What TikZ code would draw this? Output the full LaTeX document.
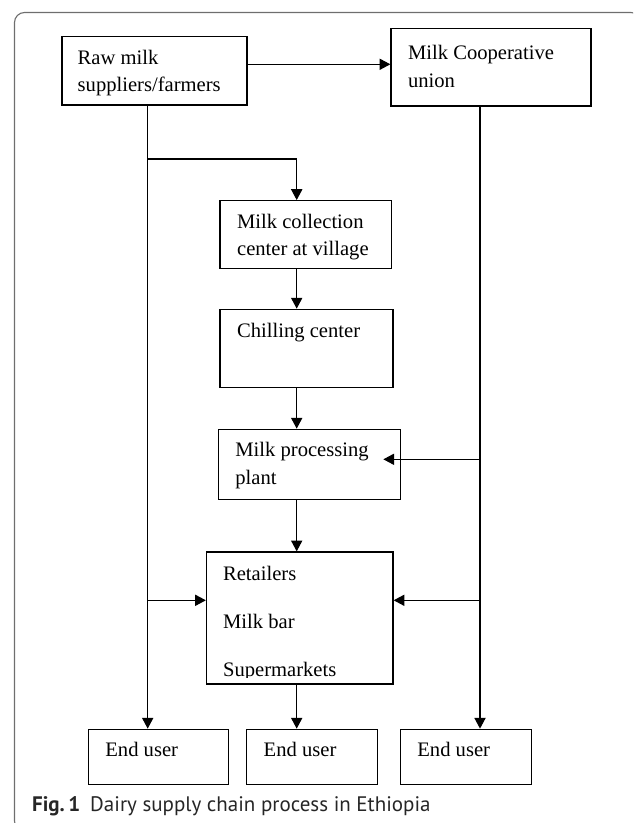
\documentclass[tikz,border=0pt]{standalone}
\usepackage{fontspec}
\setmainfont{Liberation Serif}
\newfontfamily\capfont{PT Sans}
\usetikzlibrary{arrows.meta,fit}
\definecolor{framegray}{HTML}{6E6E6E}
\definecolor{capgray}{HTML}{262626}
\begin{document}
\begin{tikzpicture}[x=.5pt,y=-.5pt,
	box/.style={draw,line width=.65pt,inner sep=0pt},
	txt/.style={anchor=base west,inner sep=0pt,align=left,font=\fontsize{10.3}{13.7}\selectfont},
	arr/.style={-{Triangle[length=5.4pt,width=5.6pt]},line width=.6pt}]
	\useasboundingbox(0,0)rectangle(633,823);
	\clip(0,0)rectangle(633,823);
	\draw[framegray,line width=.55pt,rounded corners=5pt](14.5,12.5)rectangle(641,831);
	\coordinate(L)at(147.7,0);
	\coordinate(C)at(296.7,0);
	\coordinate(R)at(480,0);
	\coordinate(T)at(0,64.3);
	\coordinate(B)at(147.7,159);
	\coordinate(P)at(0,459.3);
	\coordinate(Q)at(0,600.3);
	\coordinate(S)at(0,677.5);
	\node[box,fit={(62,36.7)(247,105)}](raw){};
	\node[box,fit={(391,28.3)(591,106)}](coop){};
	\node[box,fit={(220,200.7)(391.7,268.3)}](collect){};
	\node[box,fit={(220,309.3)(393,387.7)}](chill){};
	\node[box,fit={(218.7,429.3)(400.7,499.3)}](plant){};
	\node[box,fit={(206.5,552)(393,684)}](retail){};
	\node[txt](rawT)at(77.3,91.7){Raw milk\\suppliers/farmers};
	\node[txt](coopT)at(407.7,87.4){Milk Cooperative\\union};
	\node[txt](collectT)at(236.7,256){Milk collection\\center at village};
	\node[txt](chillT)at(236.7,337.3){Chilling center};
	\node[txt](plantT)at(235,484){Milk processing\\plant};
	\begin{scope}
		\clip(retail.north west)rectangle(retail.east|-S);
		\node[txt](retailT)at(222.7,676.3){Retailers\\[10.3pt]Milk bar\\[10.3pt]Supermarkets};
	\end{scope}
	\foreach\n/\a/\b/\t in{1/88.3/228.7/105,2/246.7/377.4/263.3,3/400.3/531.3/417}{
		\node[box,fit={(\a,729.3)(\b,784.3)}](eu\n){};
		\node[txt](euT\n)at(\t,756.7){End user};
	}
	\draw[arr](raw.east|-T)--(coop.west|-T);
	\draw[arr](raw.south-|L)--(eu1.north-|L);
	\draw[arr](B)-|(collect.north-|C);
	\draw[arr](collect.south-|C)--(chill.north-|C);
	\draw[arr](chill.south-|C)--(plant.north-|C);
	\draw[arr](plant.south-|C)--(retail.north-|C);
	\draw[arr](retail.south-|C)--(eu2.north-|C);
	\draw[arr](coop.south-|R)--(eu3.north-|R);
	\draw[arr](R|-P)--([xshift=-9pt]plant.east|-P);
	\draw[arr](L|-Q)--(retail.west|-Q);
	\draw[arr](R|-Q)--(retail.east|-Q);
	\node[anchor=base west,inner sep=0pt,text=capgray,font=\capfont\fontsize{10.5}{12}\selectfont](cap)at(31.7,811){\textbf{Fig.\,1}\hspace{5pt}Dairy supply chain process in Ethiopia};
\end{tikzpicture}
\end{document}
